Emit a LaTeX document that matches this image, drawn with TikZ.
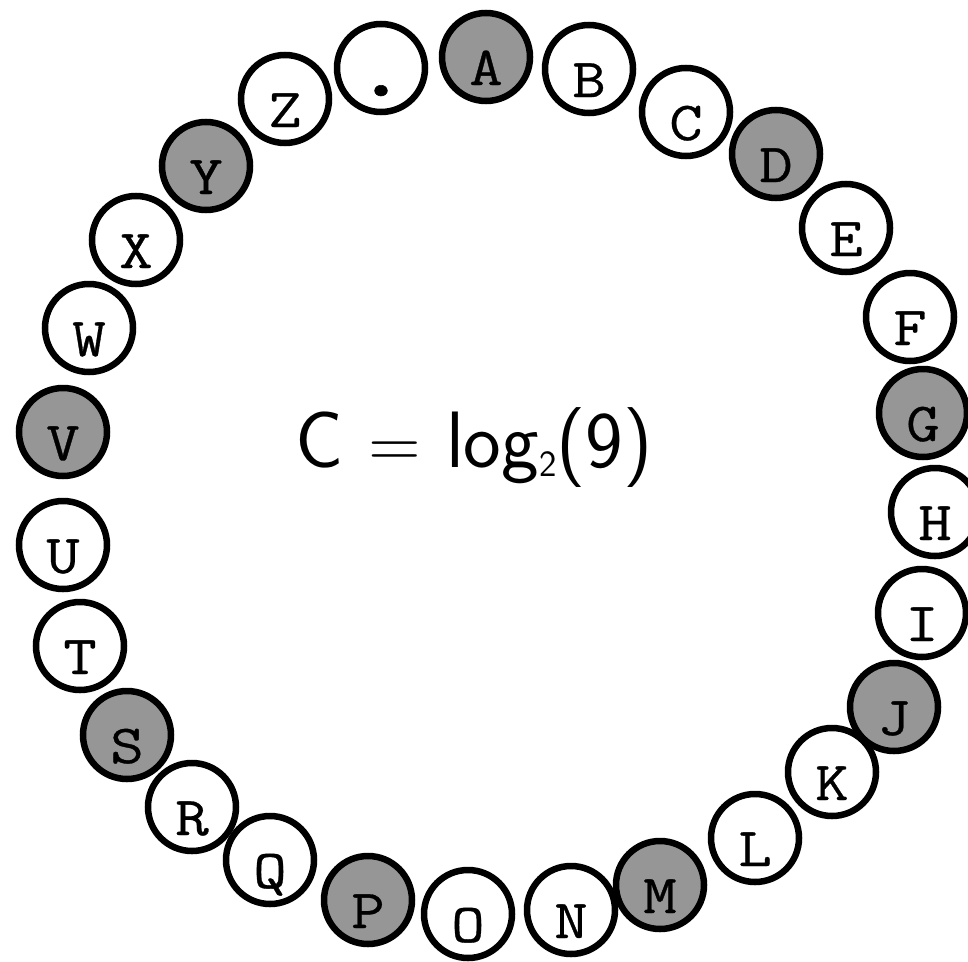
\documentclass[tikz,border=0pt]{standalone}
\usepackage{fontspec}
\newfontfamily\lettfont[FakeBold=0.6,FakeStretch=1.18]{Latin Modern Mono}
\definecolor{fillg}{RGB}{150,150,150}
\begin{document}
\begin{tikzpicture}[x=1pt,y=-1pt,
  ring/.style={circle,draw=black,line width=6.5pt,minimum size=88pt,inner sep=0pt},
  lett/.style={anchor=base,inner sep=0pt,font=\lettfont\fontsize{55}{55}\selectfont}]
\useasboundingbox (0,0) rectangle (968,961);
\clip (0,0) rectangle (968,961);
\foreach \n/\x/\y/\f/\t in {
  A/486/57/fillg/A, B/589/69/white/B, C/686/112/white/C, D/776/154/fillg/D,
  E/846/228/white/E, F/910/317/white/F, G/923/413/fillg/G, H/935/512/white/H,
  I/922/613/white/I, J/894/707/fillg/J, K/832/772/white/K, L/755/838/white/L,
  M/660/885/fillg/M, N/571/910/white/N, O/468/914/white/O, P/368/900/fillg/P,
  Q/270/860/white/Q, R/192/807/white/R, S/127/735/fillg/S, T/80/646/white/T,
  U/63/545/white/U, V/63/432/fillg/V, W/89/328/white/W, X/136/240/white/X,
  Y/206/166/fillg/Y, Z/285/99/white/Z}{
  \node[ring,fill=\f] (c\n) at (\x,\y) {};
  \node[lett] (l\n) at ([yshift=-28pt]c\n.center) {\t};
}
\node[ring,fill=white] (cdot) at (381,68) {};
\node[lett,font=\lettfont\fontsize{95}{95}\selectfont] (ldot) at ([yshift=-28pt]cdot.center) {.};
\node[anchor=base,inner sep=0pt,font=\sffamily\fontsize{80}{80}\selectfont] (formula) at (474,467)
  {C {\fontsize{72}{72}\selectfont=} log\raisebox{-9pt}{\fontsize{37}{37}\selectfont 2}(9)};
\end{tikzpicture}
\end{document}
